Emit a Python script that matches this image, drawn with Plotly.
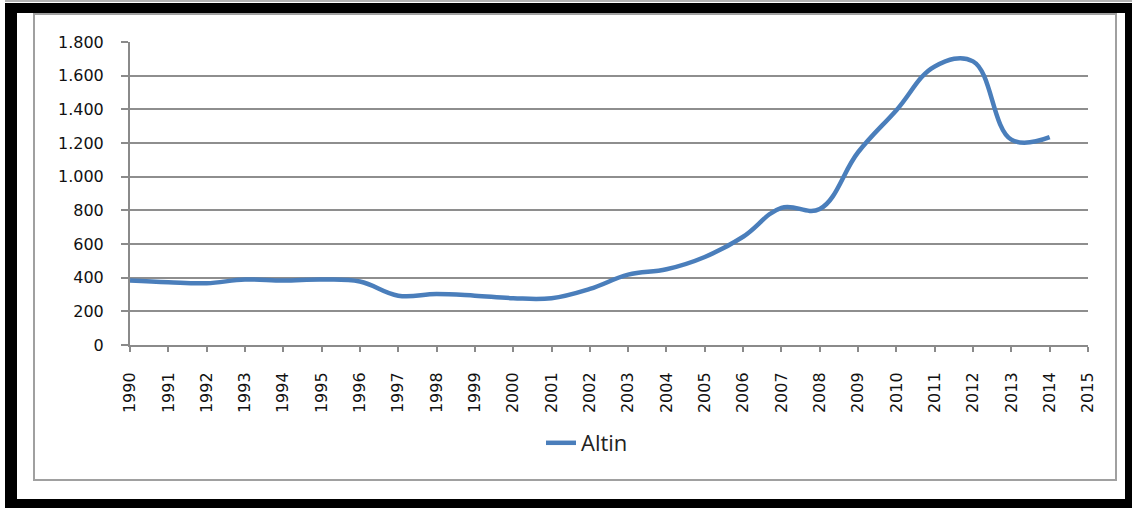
import plotly.graph_objects as go

# ---- data ----
years = list(range(1990, 2015))
altin = [383, 373, 367, 389, 383, 389, 377, 293, 303, 293, 278, 278, 333,
         418, 450, 523, 643, 815, 808, 1145, 1395, 1655, 1685, 1220, 1235]
x_ticks = list(range(1990, 2016))
x_labels = [str(y) for y in x_ticks]
y_ticks = list(range(0, 1801, 200))

W, H = 1132, 510
ML, MR, MT, MB = 130, 44, 42, 165
PW, PH = W - ML - MR, H - MT - MB

def px(x):
    return (x - ML) / PW

def py(y):
    return (H - MB - y) / PH

fig = go.Figure()
fig.add_trace(go.Scatter(
    x=years, y=altin, mode="lines", name="Altin",
    line=dict(color="#4A7EBB", width=4.5, shape="spline", smoothing=1.12),
))

shapes = []
# outer black frame (4 filled bands)
black = dict(type="rect", xref="paper", yref="paper", fillcolor="black",
             line=dict(width=0), layer="above")
shapes.append({**black, "x0": px(5), "x1": px(1132), "y0": py(3), "y1": py(13)})
shapes.append({**black, "x0": px(5), "x1": px(1132), "y0": py(499), "y1": py(508)})
shapes.append({**black, "x0": px(5), "x1": px(17), "y0": py(3), "y1": py(508)})
shapes.append({**black, "x0": px(1125), "x1": px(1132), "y0": py(3), "y1": py(508)})
# thin gray line above the frame
shapes.append(dict(type="line", xref="paper", yref="paper", x0=px(5), x1=px(1132),
                   y0=py(1), y1=py(1), line=dict(color="#9a9a9a", width=1.5)))
# inner gray chart border
shapes.append(dict(type="rect", xref="paper", yref="paper",
                   x0=px(34), x1=px(1116), y0=py(14), y1=py(480),
                   line=dict(color="#a0a0a0", width=2), layer="below"))

fig.update_layout(
    width=W, height=H,
    margin=dict(l=ML, r=MR, t=MT, b=MB, pad=0),
    paper_bgcolor="white", plot_bgcolor="white",
    separators=",.",
    shapes=shapes,
    showlegend=True,
    legend=dict(orientation="h", x=px(541), xanchor="left", y=py(443), yanchor="middle",
                font=dict(family="Open Sans", size=22, color="#222222"),
                bgcolor="rgba(0,0,0,0)", borderwidth=0),
    xaxis=dict(range=[1990, 2015], tickvals=x_ticks, ticktext=x_labels, tickangle=-90,
               showgrid=False, zeroline=False, showline=True, linecolor="#8a8a8a", linewidth=2,
               ticks="outside", ticklen=5, tickwidth=1.5, tickcolor="#8a8a8a",
               ticklabelstandoff=14,
               tickfont=dict(family="DejaVu Sans", size=16, color="#111111")),
    yaxis=dict(range=[0, 1800], tickvals=y_ticks, tickformat=",d",
               showgrid=True, gridcolor="#8e8e8e", gridwidth=1.5,
               zeroline=False, showline=True, linecolor="#8a8a8a", linewidth=2,
               ticks="outside", ticklen=7, tickwidth=1.5, tickcolor="#8a8a8a",
               ticklabelstandoff=14,
               tickfont=dict(family="DejaVu Sans", size=16, color="#111111")),
)

fig.write_html("out.html")
